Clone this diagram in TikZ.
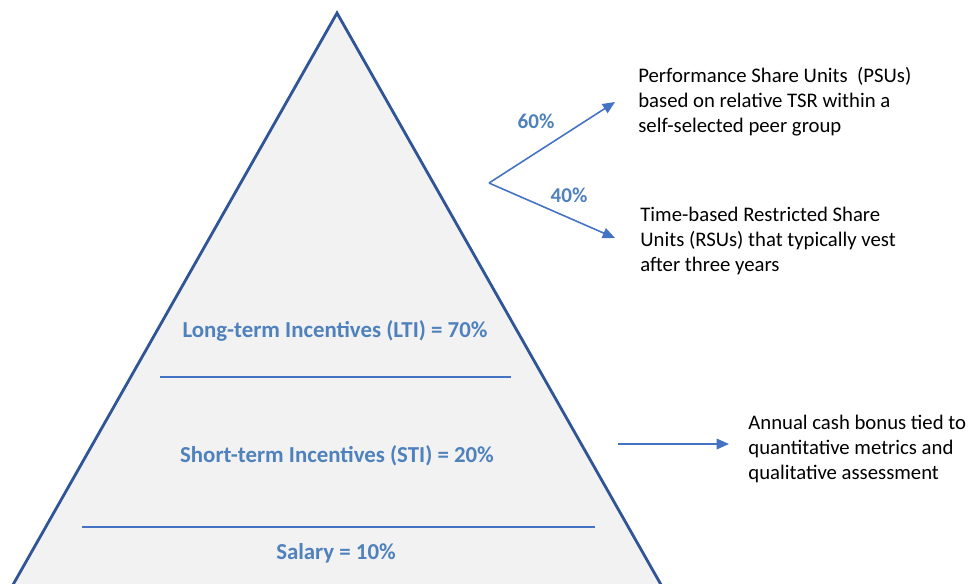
\documentclass[tikz,border=0pt]{standalone}
\usepackage{fontspec}
\setmainfont{Carlito}
\usetikzlibrary{arrows.meta}
\definecolor{edgeblue}{HTML}{2F5597}
\definecolor{lineblue}{HTML}{4472C4}
\definecolor{labelblue}{HTML}{4F81BD}
\definecolor{pyrfill}{HTML}{F2F2F2}
\tikzset{
  tierlabel/.style={text=labelblue,font=\bfseries\fontsize{13}{15}\selectfont,inner sep=0pt},
  pctlabel/.style={tierlabel,font=\bfseries\fontsize{12}{14}\selectfont},
  notetext/.style={align=left,anchor=west,inner sep=0pt,font=\fontsize{11.8}{14.2}\selectfont},
  splitarrow/.style={lineblue,line width=0.9pt,-{Triangle[length=7pt,width=6pt]}}
}
\begin{document}
\begin{tikzpicture}[x=0.02cm,y=-0.02cm]
\useasboundingbox (0,0) rectangle (972,583);
% pyramid
\fill[pyrfill] (337,13)--(10,590)--(664,590)--cycle;
\draw[edgeblue,line width=1.6pt,line join=miter] (10,590)--(337,13)--(664,590);
\draw[lineblue,line width=1.2pt] (160,377)--(511,377);
\draw[lineblue,line width=1.2pt] (82,527)--(595,527);
\node[tierlabel] (lti) at (335,331) {Long-term Incentives (LTI) = 70\%};
\node[tierlabel] (sti) at (337,456) {Short-term Incentives (STI) = 20\%};
\node[tierlabel] (salary) at (336,553) {Salary = 10\%};
% LTI split
\coordinate (split) at (489,183);
\coordinate (psuend) at (615,102);
\coordinate (rsuend) at (615,238);
\draw[splitarrow] (split)--(psuend);
\draw[splitarrow] (split)--(rsuend);
\node[pctlabel] (psupct) at (536,121) {60\%};
\node[pctlabel] (rsupct) at (569,195) {40\%};
\node[notetext] (psu) at (638,102) {Performance Share Units\ \ (PSUs)\\based on relative TSR within a\\self-selected peer group};
\node[notetext] (rsu) at (640,241) {Time-based Restricted Share\\Units (RSUs) that typically vest\\after three years};
% STI
\coordinate (stistart) at (618,444);
\coordinate (stiend) at (729,444);
\draw[splitarrow] (stistart)--(stiend);
\node[notetext] (bonus) at (748,449) {Annual cash bonus tied to\\quantitative metrics and\\qualitative assessment};
\end{tikzpicture}
\end{document}
